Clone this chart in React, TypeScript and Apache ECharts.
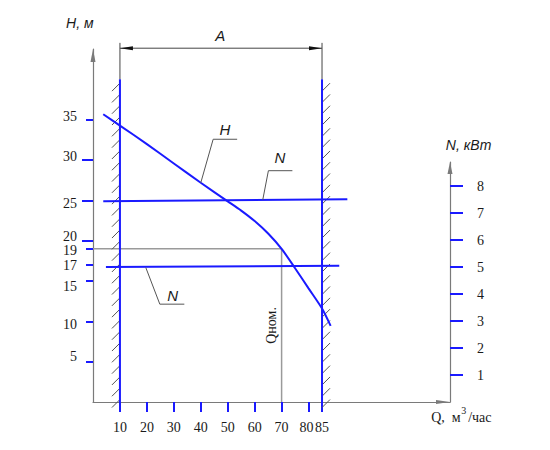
import React, { useEffect, useRef } from "react";
import * as echarts from "echarts";

// ---- axis ranges / ticks ----
const Q_MAX = 132.5;
const H_MAX = 43.8;
const N_MAX = 8.89;
const Q_TICKS = [10, 20, 30, 40, 50, 60, 70, 80, 85];
const H_TICKS_LONG = [20, 25, 30];
const H_TICKS_SHORT = [5, 10, 15, 17, 19, 35];
const H_LABELS = [5, 10, 15, 17, 19, 20, 25, 30, 35];
const N_TICKS = [1, 2, 3, 4, 5, 6, 7, 8];

// ---- data ----
const H_Q = [3.8, 10, 20, 30, 40, 50, 55, 60, 65, 70, 75, 80, 85, 88.2];
const H_VAL = [35.7, 34.3, 32.0, 29.6, 27.2, 24.9, 23.75, 22.45, 20.9, 19.0, 16.6, 14.1, 11.6, 9.45];

const N_UPPER_Q = [3.8, 94.4];
const N_UPPER = [7.44, 7.51];
const N_LOWER_Q = [4.8, 91.4];
const N_LOWER = [5.0, 5.05];

const Q_NOM = 70;
const H_NOM = 19;

const WALL_Q = [10, 85];
const WALL_TOP_H = 40.06;
const DIM_H = 43.9;
const DIM_EXT_TOP_H = 44.56;

// leaders (Q, H)
const LEADER_H = [[40, 27.2], [44.6, 32.6], [53.5, 32.6]];
const LEADER_N1 = [[63.0, 25.07], [65.1, 28.7], [74.0, 28.7]];
const LEADER_N2 = [[19.6, 16.68], [24.8, 12.14], [33.9, 12.14]];

// label anchors (Q, H)
const TXT_H = [49.0, 33.8];
const TXT_N1 = [69.4, 30.36];
const TXT_N2 = [29.6, 13.23];
const TXT_A = [47.2, 45.5];
const TXT_QNOM = [66.2, 9.5];
const TXT_H_AXIS = [-4.9, 47.0];
const TXT_N_AXIS = [139.4, 31.9];
const TXT_Q_AXIS = [125.5, -1.95];

// label nudges (px)
const H_LABEL_DY: Record<number, number> = { 5: -5, 10: 3, 15: 5.5, 17: 1, 19: 2, 20: -4.5, 25: 2.5, 30: -4, 35: -3 };
const Q_LABEL_DX: Record<number, number> = { 80: -2, 85: 0 };

const BLUE = "#1a1aff";
const GREY = "#7a7a7a";
const TXT = "#1a1a1a";
const SERIF = "Liberation Serif";
const SANS = "Liberation Sans";

export default function App() {
  const ref = useRef<HTMLDivElement>(null);
  useEffect(() => {
    if (!ref.current) return;
    const chart = echarts.init(ref.current, undefined, { renderer: "svg" });

    const rich: any = {};
    H_LABELS.forEach((v) => {
      const d = H_LABEL_DY[v] || 0;
      rich["h" + v] = {
        fontFamily: SERIF,
        fontSize: 14,
        lineHeight: 11,
        color: TXT,
        padding: d >= 0 ? [2 * d, 0, 0, 0] : [0, 0, -2 * d, 0],
      };
    });

    const arrowLine = (sym: [number, number]) => ({
      show: true,
      onZero: false,
      lineStyle: { color: GREY, width: 1.2 },
      symbol: ["none", "triangle"],
      symbolSize: sym,
      symbolOffset: [0, -sym[1] / 2],
    });

    const wallRender = (params: any, api: any) => {
      const q = api.value(0);
      const side = api.value(1);
      const pTop = api.coord([q, WALL_TOP_H]);
      const pBot = api.coord([q, 0]);
      const x = pTop[0];
      const kids: any[] = [];
      for (let y = pTop[1] + 4; y < pBot[1] - 1; y += 11.3) {
        const shape =
          side < 0
            ? { x1: x - 8, y1: y + 8, x2: x, y2: y }
            : { x1: x, y1: y + 8, x2: x + 8, y2: y };
        kids.push({ type: "line", shape, style: { stroke: "#555", lineWidth: 1 } });
      }
      kids.push({
        type: "line",
        shape: { x1: x, y1: pTop[1], x2: x, y2: pBot[1] },
        style: { stroke: BLUE, lineWidth: 2 },
      });
      return { type: "group", children: kids };
    };

    const annRender = (params: any, api: any) => {
      const c = (p: number[]) => api.coord(p);
      const kids: any[] = [];
      const leader = (pts: number[][]) =>
        kids.push({
          type: "polyline",
          shape: { points: pts.map(c) },
          style: { stroke: "#555", lineWidth: 1, fill: null },
        });
      leader(LEADER_H);
      leader(LEADER_N1);
      leader(LEADER_N2);

      const text = (p: number[], t: string, font: any, extra: any = {}) => {
        const pp = c(p);
        kids.push({
          type: "text",
          x: pp[0] + (extra.dx || 0),
          y: pp[1] + (extra.dy || 0),
          rotation: extra.rotation || 0,
          style: {
            text: t,
            fill: TXT,
            align: extra.align || "center",
            verticalAlign: extra.va || "middle",
            ...font,
          },
        });
      };
      const ital = { fontFamily: SANS, fontStyle: "italic", fontSize: 15 };
      text(TXT_H, "H", ital);
      text(TXT_N1, "N", ital);
      text(TXT_N2, "N", ital);
      text(TXT_A, "A", ital);
      text(TXT_H_AXIS, "H, м", { fontFamily: SANS, fontStyle: "italic", fontSize: 14 });
      text(TXT_N_AXIS, "N, кВт", { fontFamily: SANS, fontStyle: "italic", fontSize: 14 });
      text(TXT_QNOM, "Qном.", { fontFamily: SERIF, fontSize: 14 }, { rotation: Math.PI / 2 });
      text(TXT_Q_AXIS, "Q,  м", { fontFamily: SERIF, fontSize: 14 }, { align: "left" });
      text(TXT_Q_AXIS, "3", { fontFamily: SERIF, fontSize: 10 }, { align: "left", dx: 30, dy: -7 });
      text(TXT_Q_AXIS, "/час", { fontFamily: SERIF, fontSize: 14 }, { align: "left", dx: 37 });

      // x-axis tick labels
      Q_TICKS.forEach((q) => {
        text([q, 0], String(q), { fontFamily: SERIF, fontSize: 14 }, { dx: Q_LABEL_DX[q] || 0, dy: 25 });
      });

      // dimension A
      const xl = c([WALL_Q[0], DIM_H])[0];
      const xr = c([WALL_Q[1], DIM_H])[0];
      const yDim = c([0, DIM_H])[1];
      const yExtTop = c([0, DIM_EXT_TOP_H])[1];
      const yExtBot = c([0, WALL_TOP_H])[1];
      const ls = { stroke: "#444", lineWidth: 1 };
      kids.push({ type: "line", shape: { x1: xl, y1: yExtTop, x2: xl, y2: yExtBot }, style: ls });
      kids.push({ type: "line", shape: { x1: xr, y1: yExtTop, x2: xr, y2: yExtBot }, style: ls });
      kids.push({ type: "line", shape: { x1: xl, y1: yDim, x2: xr, y2: yDim }, style: ls });
      kids.push({
        type: "polygon",
        shape: { points: [[xl, yDim], [xl + 13, yDim - 2], [xl + 13, yDim + 2]] },
        style: { fill: "#111" },
      });
      kids.push({
        type: "polygon",
        shape: { points: [[xr, yDim], [xr - 13, yDim - 2], [xr - 13, yDim + 2]] },
        style: { fill: "#111" },
      });
      return { type: "group", children: kids };
    };

    chart.setOption({
      animation: false,
      backgroundColor: "#ffffff",
      grid: [
        { left: 93, right: 100, top: 49, bottom: 48 },
        { left: 93, right: 100, top: 162, bottom: 48 },
      ],
      xAxis: [
        {
          gridIndex: 0,
          type: "value",
          min: 0,
          max: Q_MAX,
          axisLine: arrowLine([4, 14]),
          axisTick: {
            show: true,
            customValues: Q_TICKS,
            length: 10,
            inside: false,
            lineStyle: { color: BLUE, width: 2 },
          },
          axisLabel: { show: false },
          splitLine: { show: false },
        },
        {
          gridIndex: 1,
          type: "value",
          min: 0,
          max: Q_MAX,
          show: false,
        },
      ],
      yAxis: [
        {
          gridIndex: 0,
          type: "value",
          position: "left",
          min: 0,
          max: H_MAX,
          axisLine: arrowLine([5, 13]),
          axisTick: {
            show: true,
            customValues: H_TICKS_LONG,
            length: 11,
            inside: false,
            lineStyle: { color: BLUE, width: 2 },
          },
          axisLabel: {
            customValues: H_LABELS,
            margin: 16,
            fontFamily: SERIF,
            fontSize: 14,
            color: TXT,
            hideOverlap: false,
            formatter: (v: number) => `{h${v}|${v}}`,
            rich,
          },
          splitLine: { show: false },
        },
        {
          gridIndex: 0,
          type: "value",
          position: "left",
          offset: 0,
          min: 0,
          max: H_MAX,
          axisLine: { show: false, onZero: false },
          axisTick: {
            show: true,
            customValues: H_TICKS_SHORT,
            length: 7,
            inside: false,
            lineStyle: { color: BLUE, width: 2 },
          },
          axisLabel: { show: false },
          splitLine: { show: false },
        },
        {
          gridIndex: 1,
          type: "value",
          position: "right",
          min: 0,
          max: N_MAX,
          axisLine: arrowLine([5, 12]),
          axisTick: {
            show: true,
            customValues: N_TICKS,
            length: 13,
            inside: false,
            lineStyle: { color: BLUE, width: 2 },
          },
          axisLabel: {
            customValues: N_TICKS,
            margin: 27,
            fontFamily: SERIF,
            fontSize: 14,
            color: TXT,
          },
          splitLine: { show: false },
        },
      ],
      series: [
        {
          type: "line",
          name: "ref",
          xAxisIndex: 0,
          yAxisIndex: 0,
          data: [[0, H_NOM], [Q_NOM, H_NOM], [Q_NOM, 0]],
          symbol: "none",
          lineStyle: { color: "#9a9a9a", width: 1.5 },
          z: 1,
        },
        {
          type: "custom",
          name: "walls",
          xAxisIndex: 0,
          yAxisIndex: 0,
          clip: false,
          renderItem: wallRender,
          data: [[WALL_Q[0], -1], [WALL_Q[1], 1]],
          z: 2,
        },
        {
          type: "line",
          name: "H",
          xAxisIndex: 0,
          yAxisIndex: 0,
          data: H_Q.map((q, i) => [q, H_VAL[i]]),
          symbol: "none",
          smooth: 0.25,
          lineStyle: { color: BLUE, width: 2 },
          z: 3,
        },
        {
          type: "line",
          name: "N1",
          xAxisIndex: 1,
          yAxisIndex: 2,
          data: N_UPPER_Q.map((q, i) => [q, N_UPPER[i]]),
          symbol: "none",
          lineStyle: { color: BLUE, width: 2 },
          z: 3,
        },
        {
          type: "line",
          name: "N2",
          xAxisIndex: 1,
          yAxisIndex: 2,
          data: N_LOWER_Q.map((q, i) => [q, N_LOWER[i]]),
          symbol: "none",
          lineStyle: { color: BLUE, width: 2 },
          z: 3,
        },
        {
          type: "custom",
          name: "ann",
          xAxisIndex: 0,
          yAxisIndex: 0,
          clip: false,
          renderItem: annRender,
          data: [[0, 0]],
          z: 4,
        },
      ],
    });
    return () => chart.dispose();
  }, []);
  return (
    <div
      ref={ref}
      style={{ position: "fixed", left: 0, top: 0, width: 550, height: 450 }}
    />
  );
}
